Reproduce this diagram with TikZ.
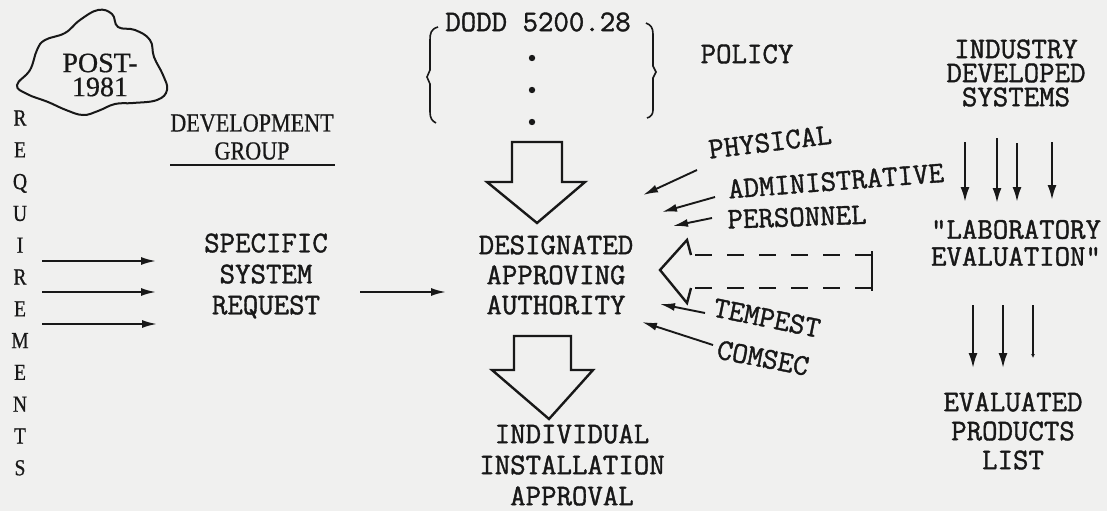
\documentclass[tikz,border=0pt]{standalone}
\usepackage{fontspec}
\newfontfamily\oldserif[FakeStretch=0.85,FakeBold=0.6]{Liberation Serif}
\newfontfamily\oldserifwide[FakeBold=0.6]{Liberation Serif}
\newfontfamily\typew[FakeBold=1.3]{Latin Modern Mono}
\usetikzlibrary{arrows.meta}
\definecolor{bg}{RGB}{240,240,239}
\definecolor{ink}{RGB}{24,24,24}
\tikzset{
  tw/.style={font=\fontsize{30}{#1}\selectfont\typew, text=ink, inner sep=0pt, align=center},
  tw/.default=30,
  sr/.style={text=ink, inner sep=0pt, align=center},
  thinarrow/.style={draw=ink, line width=1.9pt, -{Latex[length=15pt,width=8pt]}},
  vertarrow/.style={draw=ink, line width=2.2pt, -{Latex[length=15pt,width=9pt]}},
  hollow/.style={draw=ink, line width=2.4pt, line join=miter},
  plainline/.style={draw=ink, line width=1.8pt},
}
\begin{document}
\begin{tikzpicture}[x=1pt,y=-1pt]
\fill[bg] (0,0) rectangle (1107,511);
\useasboundingbox (0,0) rectangle (1107,511);

% cloud
\draw[plainline, line width=2pt] plot[smooth cycle, tension=0.7] coordinates {(17,85) (30,70) (37,50) (45,40) (65,33) (80,20) (98,10) (112,14) (118,27) (135,30) (150,40) (154,57) (163,75) (167,90) (157,100) (133,103) (115,104) (98,111) (83,115) (66,110) (48,102) (27,94)};
\node[sr, font=\fontsize{28}{24}\selectfont\oldserifwide] (post) at (100,75) {POST-\\1981};

% requirements
\node[sr, font=\fontsize{23}{31.8}\selectfont\oldserif] (req) at (20,293) {R\\E\\Q\\U\\I\\R\\E\\M\\E\\N\\T\\S};

% development group
\node[sr, font=\fontsize{26}{28}\selectfont\oldserif] (dev) at (252,137) {DEVELOPMENT\\GROUP};
\coordinate (ul1) at (170,165);
\coordinate (ul2) at (335,165);
\draw[plainline] (ul1) -- (ul2);

% requirement arrows
\coordinate (ra1) at (42,261); \coordinate (rb1) at (156,261);
\coordinate (ra2) at (42,292); \coordinate (rb2) at (156,292);
\coordinate (ra3) at (42,324); \coordinate (rb3) at (157,324);
\draw[thinarrow] (ra1) -- (rb1);
\draw[thinarrow] (ra2) -- (rb2);
\draw[thinarrow] (ra3) -- (rb3);

% specific system request
\node[tw=31] (ssr) at (266,276) {SPECIFIC\\SYSTEM\\REQUEST};
\coordinate (sa) at (360,292); \coordinate (sb) at (446,292);
\draw[thinarrow] (sa) -- (sb);

% designated approving authority
\node[tw=30] (daa) at (556,275) {DESIGNATED\\APPROVING\\AUTHORITY};

% DODD policy bracket
\node[tw] (dodd) at (538,22) {DODD 5200.28};
\fill[ink] (532,58) circle (3.2) (532,90) circle (3.2) (532,122) circle (3.2);
\draw[plainline, line width=1.6pt] (438,27) .. controls (431,29) and (430,33) .. (430,40) -- (430,70) -- (427,77) -- (430,84) -- (430,112) .. controls (430,118) and (432,121) .. (436,123);
\draw[plainline, line width=1.6pt] (646,23) .. controls (651,25) and (653,28) .. (653,34) -- (653,66) -- (656,72) -- (653,78) -- (653,110) .. controls (653,114) and (651,117) .. (647,118);
\node[tw] (policy) at (747,54) {POLICY};

% policy hollow arrow
\draw[hollow] (512,142) -- (562,142) -- (562,182) -- (585,182) -- (537,223) -- (487,182) -- (512,182) -- cycle;

% approval hollow arrow
\draw[hollow] (514,336) -- (571,336) -- (571,370) -- (593,370) -- (549,419) -- (492,370) -- (514,370) -- cycle;
\node[tw=31] (iia) at (572,465) {INDIVIDUAL\\INSTALLATION\\APPROVAL};

% side inputs
\node[tw, rotate=7] (phys) at (770,142) {PHYSICAL};
\node[tw, rotate=4.4] (admin) at (836,181) {ADMINISTRATIVE};
\node[tw, rotate=2] (pers) at (797,217) {PERSONNEL};
\node[tw, rotate=-11.5] (temp) at (767,318) {TEMPEST};
\node[tw, rotate=-11] (coms) at (763,358) {COMSEC};
\coordinate (pa) at (697,170); \coordinate (pb) at (643,195);
\coordinate (aa) at (715,197); \coordinate (ab) at (662,212);
\coordinate (qa) at (712,218); \coordinate (qb) at (673,226);
\coordinate (ta) at (705,313); \coordinate (tb) at (660,304);
\coordinate (ca) at (713,345); \coordinate (cb) at (642,322);
\draw[thinarrow] (pa) -- (pb);
\draw[thinarrow] (aa) -- (ab);
\draw[thinarrow] (qa) -- (qb);
\draw[thinarrow] (ta) -- (tb);
\draw[thinarrow] (ca) -- (cb);

% dashed hollow arrow from laboratory evaluation
\draw[hollow] (691,255) -- (687,240) -- (660,270) -- (687,303) -- (691,288);
\draw[hollow, dash pattern=on 17pt off 15pt, dash phase=-4pt] (691,255) -- (872,255);
\draw[hollow, dash pattern=on 17pt off 15pt, dash phase=-4pt] (691,288) -- (872,288);
\draw[hollow] (872,251) -- (872,291);

% right column
\node[tw=24] (ind) at (1016,73) {INDUSTRY\\DEVELOPED\\SYSTEMS};
\coordinate (ia1) at (965,142); \coordinate (ib1) at (965,202);
\coordinate (ia2) at (997,138); \coordinate (ib2) at (997,203);
\coordinate (ia3) at (1017,143); \coordinate (ib3) at (1017,202);
\coordinate (ia4) at (1052,142); \coordinate (ib4) at (1052,200);
\draw[vertarrow] (ia1) -- (ib1);
\draw[vertarrow] (ia2) -- (ib2);
\draw[vertarrow] (ia3) -- (ib3);
\draw[vertarrow] (ia4) -- (ib4);
\node[tw=27] (lab) at (1016,243) {"LABORATORY\\EVALUATION"};
\coordinate (la1) at (973,305); \coordinate (lb1) at (973,368);
\coordinate (la2) at (1003,305); \coordinate (lb2) at (1003,368);
\coordinate (la3) at (1033,305); \coordinate (lb3) at (1033,358);
\draw[vertarrow, line width=2pt] (la1) -- (lb1);
\draw[vertarrow, line width=2pt] (la2) -- (lb2);
\draw[draw=ink, line width=2pt, -{Latex[length=4pt,width=4pt]}] (la3) -- (lb3);
\node[tw=29] (epl) at (1013,431) {EVALUATED\\PRODUCTS\\LIST};
\end{tikzpicture}
\end{document}
